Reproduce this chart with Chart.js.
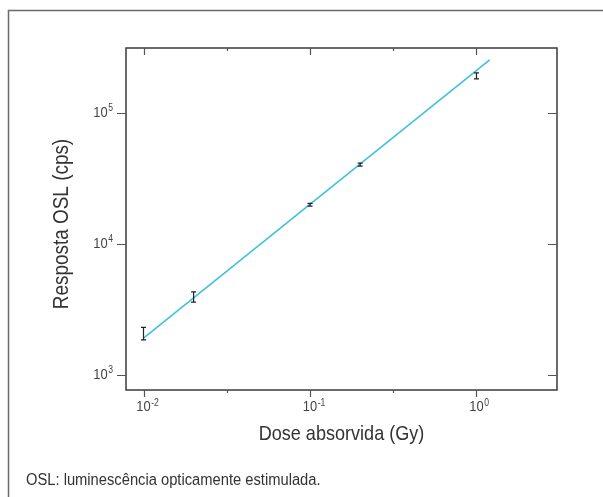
<!DOCTYPE html>
<html>
<head>
<meta charset="utf-8">
<script src="https://cdn.jsdelivr.net/npm/chart.js@4"></script>
<style>
  html, body { margin: 0; padding: 0; background: #fff; }
  #wrap { width: 603px; height: 497px; position: relative; }
</style>
</head>
<body>
<div id="wrap"><canvas id="oslChart"></canvas></div>
<script>
const FONT = '"Liberation Sans", Arial, sans-serif';
const SQUEEZE = 0.86; // narrow look like the original condensed face

// dose (Gy) and OSL response (cps) with error bars
const doses = [0.01, 0.02, 0.1, 0.2, 1];
const response = [2080, 3950, 19900, 40300, 192000];
const responseErr = [230, 350, 500, 1000, 10000];

// fitted line end points
const fitX = [0.01, 1.2];
const fitY = [1905, 254000];

// axis ticks
const xTicks = [0.01, 0.1, 1];
const xTickExp = ['-2', '-1', '0'];
const xMinorTicks = [0.0316, 0.316];
const yTicks = [1000, 10000, 100000];
const yTickExp = ['3', '4', '5'];

const xTitle = 'Dose absorvida (Gy)';
const yTitle = 'Resposta OSL (cps)';
const caption = 'OSL: luminescência opticamente estimulada.';

// draws text squeezed horizontally; returns drawn width
function narrowText(ctx, text, x, y, size, align, rot, sq) {
    const k = sq || SQUEEZE;
    ctx.save();
    ctx.translate(x, y);
    if (rot) ctx.rotate(rot);
    ctx.scale(k, 1);
    ctx.font = size + 'px ' + FONT;
    ctx.textAlign = align;
    ctx.fillText(text, 0, 0);
    const w = ctx.measureText(text).width * k;
    ctx.restore();
    return w;
}

const extras = {
    id: 'extras',
    afterDraw(chart) {
        const ctx = chart.ctx;
        const area = chart.chartArea;
        const x = chart.scales.x;
        const y = chart.scales.y;
        ctx.save();

        // outer frame (top + left only)
        ctx.strokeStyle = '#6a6a6a';
        ctx.lineWidth = 1.5;
        ctx.beginPath();
        ctx.moveTo(603, 10.5);
        ctx.lineTo(8.5, 10.5);
        ctx.lineTo(8.5, 497);
        ctx.stroke();

        // error bars
        ctx.strokeStyle = '#222';
        ctx.lineWidth = 1.2;
        doses.forEach((d, i) => {
            const px = x.getPixelForValue(d);
            const top = y.getPixelForValue(response[i] + responseErr[i]);
            const bot = y.getPixelForValue(response[i] - responseErr[i]);
            ctx.beginPath();
            ctx.moveTo(px, top); ctx.lineTo(px, bot);
            ctx.moveTo(px - 2.5, top); ctx.lineTo(px + 2.5, top);
            ctx.moveTo(px - 2.5, bot); ctx.lineTo(px + 2.5, bot);
            ctx.stroke();
        });

        // plot box
        ctx.strokeStyle = '#3a3a3a';
        ctx.lineWidth = 1.5;
        ctx.strokeRect(area.left, area.top, area.right - area.left, area.bottom - area.top);

        // ticks
        ctx.strokeStyle = '#555';
        ctx.lineWidth = 1.2;
        ctx.beginPath();
        xTicks.forEach(v => {
            const px = Math.round(x.getPixelForValue(v)) + 0.5;
            ctx.moveTo(px, area.bottom); ctx.lineTo(px, area.bottom + 7);
            ctx.moveTo(px, area.top); ctx.lineTo(px, area.top + 7);
        });
        xMinorTicks.forEach(v => {
            const px = Math.round(x.getPixelForValue(v)) + 0.5;
            ctx.moveTo(px, area.bottom); ctx.lineTo(px, area.bottom + 3);
            ctx.moveTo(px, area.top); ctx.lineTo(px, area.top + 3);
        });
        yTicks.forEach(v => {
            const py = Math.round(y.getPixelForValue(v)) + 0.5;
            ctx.moveTo(area.left - 9, py); ctx.lineTo(area.left, py);
            ctx.moveTo(area.right - 9, py); ctx.lineTo(area.right, py);
        });
        ctx.stroke();

        // tick labels with superscript exponents
        ctx.fillStyle = '#444';
        ctx.textBaseline = 'alphabetic';
        xTicks.forEach((v, i) => {
            const px = x.getPixelForValue(v);
            const w = narrowText(ctx, '10', px, area.bottom + 21, 15, 'center');
            narrowText(ctx, xTickExp[i], px + w / 2 + 0.5, area.bottom + 16, 10, 'left');
        });
        yTicks.forEach((v, i) => {
            const py = y.getPixelForValue(v);
            const ew = narrowText(ctx, yTickExp[i], area.left - 13, py - 1.5, 10, 'right');
            narrowText(ctx, '10', area.left - 13 - ew - 0.5, py + 4, 15, 'right');
        });

        // axis titles
        ctx.fillStyle = '#333';
        const midX = (area.left + area.right) / 2;
        const midY = (area.top + area.bottom) / 2;
        narrowText(ctx, xTitle, midX, 440, 21, 'center');
        narrowText(ctx, yTitle, 68, midY + 5, 22, 'center', -Math.PI / 2);

        // caption
        narrowText(ctx, caption, 26, 485, 16, 'left', 0, 0.92);
        ctx.restore();
    }
};

new Chart(document.getElementById('oslChart'), {
    type: 'scatter',
    data: {
        datasets: [{
            type: 'line',
            label: 'ajuste',
            data: fitX.map((v, i) => ({ x: v, y: fitY[i] })),
            borderColor: '#3ec0e0',
            borderWidth: 1.6,
            pointRadius: 0,
            fill: false
        }, {
            label: 'OSL',
            data: doses.map((v, i) => ({ x: v, y: response[i] })),
            pointRadius: 0
        }]
    },
    plugins: [extras],
    options: {
        responsive: true,
        maintainAspectRatio: false,
        animation: false,
        layout: { padding: { top: 48, right: 46, left: 0, bottom: 0 } },
        plugins: { legend: { display: false }, tooltip: { enabled: false } },
        scales: {
            x: {
                type: 'logarithmic',
                min: 0.00785,
                max: 3.045,
                grid: { display: false },
                border: { display: false },
                ticks: { display: false },
                afterFit(scale) { scale.height = 107; }
            },
            y: {
                type: 'logarithmic',
                min: 767,
                max: 313000,
                grid: { display: false },
                border: { display: false },
                ticks: { display: false },
                afterFit(scale) { scale.width = 126; }
            }
        }
    }
});
</script>
</body>
</html>
